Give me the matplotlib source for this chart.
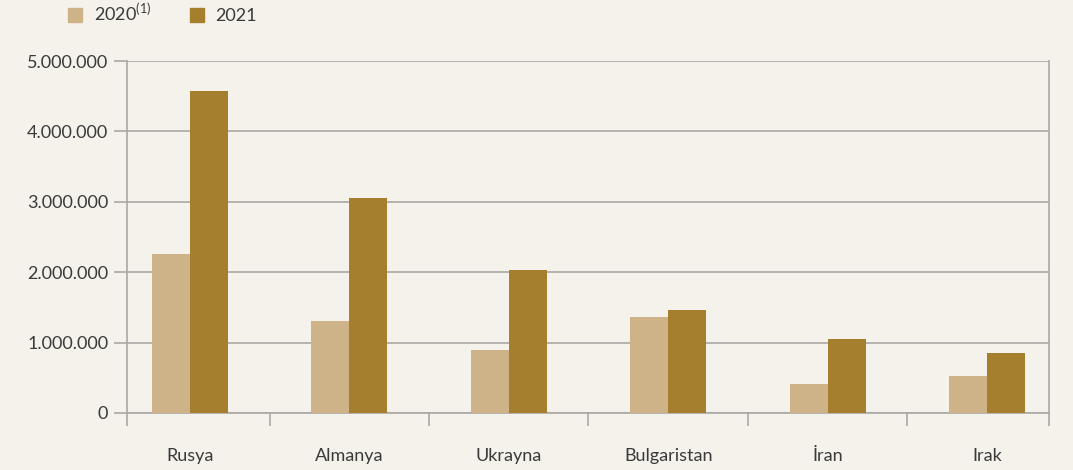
import numpy as np
import matplotlib
matplotlib.use("Agg")
import matplotlib.pyplot as plt
from matplotlib.patches import Patch
import matplotlib.ticker as mticker

plt.rcParams["font.family"] = ["Lato", "DejaVu Sans"]
plt.rcParams["mathtext.fontset"] = "custom"
plt.rcParams["mathtext.rm"] = "Lato"

# data
countries = ["Rusya", "Almanya", "Ukrayna", "Bulgaristan", "İran", "Irak"]
vals_2020 = [2263000, 1306000, 890000, 1370000, 410000, 520000]
vals_2021 = [4575000, 3050000, 2030000, 1460000, 1050000, 850000]
yticks = [0, 1000000, 2000000, 3000000, 4000000, 5000000]

BG = "#f5f2ec"
C2020 = "#cdb387"
C2021 = "#a67f2e"
GRID = "#a9a8a4"
TXT = "#3a3a3a"
FS = 13

fig = plt.figure(figsize=(10.73, 4.70), dpi=100)
fig.patch.set_facecolor(BG)
ax = fig.add_axes([0.1184, 0.1213, 0.8592, 0.7489])
ax.set_facecolor(BG)

x = np.arange(len(countries))
w = 0.238
ax.bar(x - w / 2, vals_2020, width=w, color=C2020, zorder=3)
ax.bar(x + w / 2, vals_2021, width=w, color=C2021, zorder=3)

ax.set_xlim(-0.395, len(countries) - 1 + 0.389)
ax.set_ylim(0, 5000000)
ax.set_yticks(yticks)
ax.yaxis.set_major_formatter(
    mticker.FuncFormatter(lambda v, p: f"{int(v):,}".replace(",", ".")))
ax.grid(axis="y", color=GRID, linewidth=1.2, zorder=0)

ax.set_xticks(x)
ax.set_xticklabels(countries)
ax.set_xticks(list(x[:-1] + 0.5) + list(ax.get_xlim()), minor=True)
ax.tick_params(axis="x", which="major", length=0, pad=25, labelsize=FS, colors=TXT)
ax.tick_params(axis="x", which="minor", length=9, width=1.2, color=GRID)
ax.tick_params(axis="y", length=9.5, width=1.2, color=GRID, pad=4,
               labelsize=FS, labelcolor=TXT)

for s in ["left", "right", "bottom"]:
    ax.spines[s].set_color(GRID)
    ax.spines[s].set_linewidth(1.2)
ax.spines["top"].set_visible(False)

handles = [Patch(color=C2020), Patch(color=C2021)]
fig.legend(handles, ["2020$^{(1)}$", "2021"], ncol=2, loc="upper left",
           bbox_to_anchor=(0.048, 1.03), frameon=False, fontsize=FS,
           handlelength=0.78, handleheight=0.78, handletextpad=0.65,
           columnspacing=2.15, labelcolor=TXT)

fig.savefig("out.png", dpi=100, facecolor=BG)
